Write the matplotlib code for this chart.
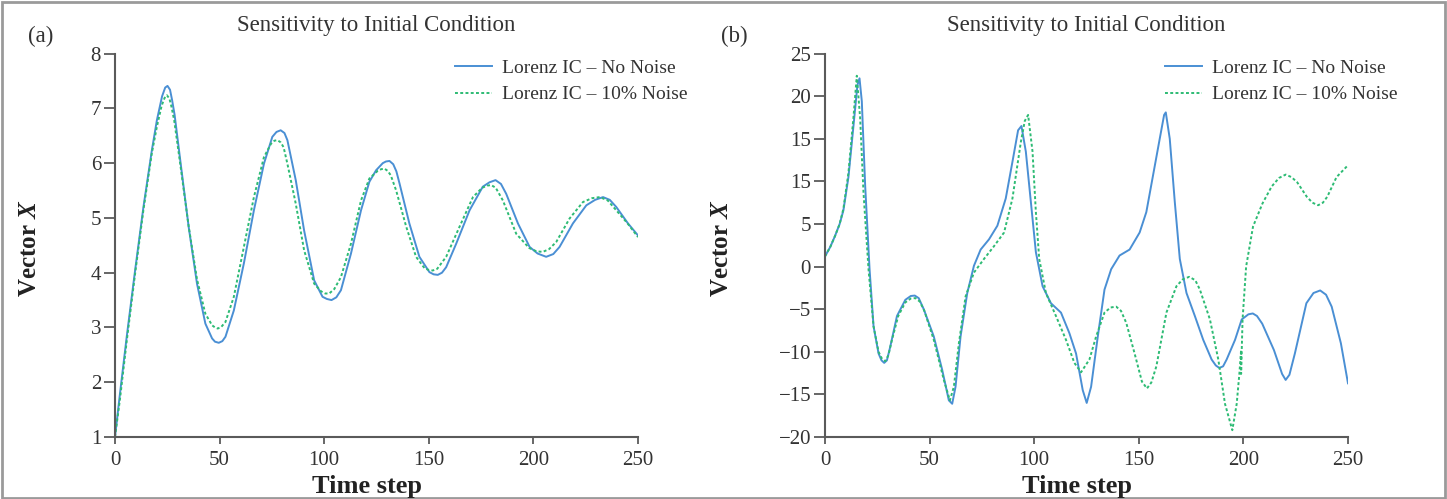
import matplotlib
matplotlib.use("Agg")
import matplotlib.pyplot as plt
from matplotlib.patches import Rectangle

plt.rcParams['font.family'] = ['Liberation Serif', 'DejaVu Serif']
plt.rcParams['mathtext.fontset'] = 'custom'
plt.rcParams['mathtext.it'] = 'Liberation Serif:italic:bold'
plt.rcParams['mathtext.rm'] = 'Liberation Serif:bold'

# ---- panel (a) ----
ta_blue = [0, 2.4, 5.6, 9.6, 13.6, 17.6, 20, 22.5, 24, 25.1, 26.3, 27.3, 28.5, 31.2, 35.2,
           39.2, 43.2, 46.4, 47.8, 49.6, 51.3, 52.8, 56.8, 61.6, 66.4, 71.2, 75.2, 77.2,
           79.2, 81, 82.4, 86.4, 90.4, 95.2, 99.2, 101.3, 103.5, 105.8, 108, 112.8, 117.6,
           121.6, 124.8, 128, 129.5, 131.2, 133, 134.5, 136, 140.7, 145.5, 150.3, 152.3,
           154.3, 156.3, 158.3, 163.1, 169.5, 175.8, 179, 181.9, 184.5, 187, 192.6, 198.2,
           202, 206.1, 209.5, 212.5, 218.9, 225.3, 229.5, 233.3, 236.5, 239.6, 245.2, 250]
xa_blue = [1.0, 1.8, 2.83, 4.04, 5.2, 6.23, 6.78, 7.22, 7.38, 7.41, 7.34, 7.15, 6.88, 6.05, 4.84,
           3.8, 3.07, 2.8, 2.74, 2.72, 2.75, 2.83, 3.31, 4.17, 5.14, 5.99, 6.48, 6.57,
           6.60, 6.55, 6.42, 5.69, 4.77, 3.86, 3.56, 3.52, 3.50, 3.55, 3.68, 4.35, 5.14,
           5.66, 5.87, 6.0, 6.03, 6.04, 5.98, 5.85, 5.63, 4.9, 4.29, 4.01, 3.97,
           3.96, 4.0, 4.1, 4.53, 5.14, 5.57, 5.65, 5.69, 5.62, 5.44, 4.9, 4.47,
           4.35, 4.29, 4.34, 4.47, 4.9, 5.23, 5.33, 5.38, 5.33, 5.2, 4.9, 4.68]

ta_green = [0, 2.4, 5.6, 9.6, 13.6, 17.6, 20, 22.3, 23.7, 24.8, 26, 27, 28.3, 31.2, 35.2,
            39.2, 43.2, 46.4, 47.8, 49.1, 50.8, 52.8, 56.8, 61.6, 66.4, 71.2, 74.5, 76.2,
            77.6, 79.2, 80.6, 82.4, 86.4, 90.4, 95.2, 98.5, 100.5, 102.4, 104.8, 108, 112.8,
            117.6, 121.6, 125.6, 127.3, 128.8, 130.3, 131.8, 134.4, 139.2, 143.9, 148,
            150, 151.9, 154, 158.3, 164.7, 171.1, 175.5, 178, 179.8, 182, 185.4, 191.8, 198,
            201.5, 204.5, 207.5, 210.9, 217.3, 223.7, 228, 231.7, 235.5, 239.6, 245, 250]
xa_green = [1.0, 1.7, 2.75, 3.98, 5.15, 6.18, 6.66, 7.05, 7.19, 7.24, 7.18, 7.03, 6.78, 5.98, 4.85,
            3.88, 3.25, 3.04, 3.0, 2.98, 3.01, 3.1, 3.56, 4.47, 5.38, 6.11, 6.35, 6.41,
            6.42, 6.38, 6.29, 5.99, 5.26, 4.41, 3.80, 3.66, 3.62, 3.62, 3.70, 3.92, 4.53,
            5.32, 5.72, 5.86, 5.89, 5.9, 5.86, 5.78, 5.5, 4.84, 4.29, 4.08,
            4.05, 4.04, 4.07, 4.29, 4.84, 5.38, 5.55, 5.59, 5.6, 5.55, 5.32, 4.71, 4.45,
            4.39, 4.38, 4.43, 4.56, 4.99, 5.29, 5.36, 5.38, 5.32, 5.14, 4.9, 4.65]

# ---- panel (b) ----
tb_blue = [0, 2.5, 4.8, 7, 8.8, 11.2, 13.6, 15.5, 16.5, 17.6, 19.2, 21.3, 23.2, 25.6,
           27, 28.3, 29.6, 31.2, 34.4, 38.4, 41, 42.9, 44.8, 47.2, 52, 56, 59.2, 60.8,
           62.4, 64.8, 68, 71.2, 74.4, 78.4, 82.4, 86.4, 89.6, 92.3, 93.9, 96, 98.4,
           100.8, 104, 108, 112.8, 116.8, 120, 123.2, 125.1, 127.2, 130.4, 133.6, 136.8,
           140.8, 145.6, 150.4, 153.6, 156.8, 160, 162.1, 162.9, 164.8, 167.2, 169.6,
           172.8, 176.8, 180.8, 184.8, 186.8, 188.5, 190.3, 192, 196, 199.2, 202.4, 204.5,
           206.5, 209, 214.6, 218.5, 220.2, 222, 224.6, 230.1, 233.5, 236.7, 239.5, 242.2,
           246.6, 250]
xb_blue = [1.2, 2.3, 3.6, 5.0, 6.6, 10.5, 16.5, 21.3, 22.1, 19.4, 9.5, -0.3, -7.0, -10.2,
           -11.0, -11.3, -11.0, -9.4, -5.8, -3.9, -3.45, -3.4, -3.7, -5.0, -8.2, -12.1, -15.7,
           -16.1, -14.1, -8.2, -3.1, 0.1, 2.0, 3.2, 4.8, 8.0, 12.3, 16.0, 16.5, 13.5, 7.6,
           1.7, -2.3, -4.3, -5.4, -7.8, -10.2, -14.5, -16.0, -14.1, -8.2, -2.7, -0.3,
           1.3, 2.0, 4.0, 6.4, 10.7, 15.0, 17.8, 18.1, 15.0, 7.6, 0.9,
           -3.1, -5.8, -8.6, -10.9, -11.6, -11.9, -11.7, -10.9, -8.6, -6.2, -5.6, -5.5,
           -5.8, -6.7, -9.8, -12.6, -13.3, -12.7, -10.2, -4.3, -3.1, -2.8, -3.3, -4.7,
           -9.0, -13.7]

tb_green = [0, 2.5, 4.8, 7, 8.8, 11.2, 13.6, 15.2, 16.8, 18.4, 20.8, 23.2, 25.6, 27.2,
            28.8, 30.3, 32, 35, 38.4, 41, 43.2, 45.3, 47.5, 52, 56.8, 59.7, 61.6, 64, 67.2,
            71.2, 76, 80.8, 85.6, 89.6, 93.6, 95.5, 97.1, 99.2, 100.8, 102.4, 105.6, 110.4,
            115.2, 119.2, 122.4, 126.4, 129.6, 133.6, 136.5, 139.2, 141.5, 144, 148, 151.5,
            153.9, 156, 158.4, 163.2, 168, 171, 174.1, 177, 179.2, 184, 188, 191.2, 194.7,
            196.8, 198.1, 198.9, 198.9, 199.6, 201.3, 204.6, 209.1, 213.5, 217, 220.2, 223,
            225.7, 230.3, 233, 235.7, 238, 240.1, 244.5, 250]
xb_green = [1.2, 2.3, 3.6, 5.0, 6.8, 11.0, 17.5, 22.4, 17.4, 8.7, -0.3, -7.0, -10.0, -10.8,
            -11.1, -10.4, -8.6, -5.8, -4.2, -3.75, -3.7, -4.1, -5.2, -8.6, -13.3, -15.7, -14.1,
            -9.0, -3.5, -0.7, 0.9, 2.4, 4.0, 8.0, 14.6, 17.1, 17.8, 13.5, 6.4, 0.9, -3.1,
            -5.8, -8.6, -11.3, -12.4, -10.9, -8.2, -5.4, -4.8, -4.7, -5.2, -6.6, -10.2,
            -13.5, -14.3, -13.6, -11.7, -5.4, -2.3, -1.5, -1.2, -1.6, -2.7, -6.2, -10.9,
            -16.1, -19.2, -16.1, -12.5, -9.8, -12.6, -6.2, 0.0, 4.7, 7.4, 9.4, 10.4, 10.8,
            10.5, 9.9, 8.2, 7.5, 7.2, 7.5, 8.2, 10.5, 11.9]

xticks = [0, 50, 100, 150, 200, 250]
ya_ticks = [1, 2, 3, 4, 5, 6, 7, 8]
yb_ticks = [-20, -15, -10, -5, 0, 5, 10, 15, 20, 25]
yb_labels = ['\u221220', '\u221215', '\u221210', '\u22125', '0', '5', '15', '15', '20', '25']

BLUE = '#4a8fd4'
GREEN = '#2dbb74'
GRAY = '#5a5a5a'
TXT = '#333333'

fig = plt.figure(figsize=(14.47, 4.99), dpi=100)
fig.patches.append(Rectangle((0.0015, 0.003), 0.997, 0.993, transform=fig.transFigure,
                             fill=False, edgecolor='#9a9a9a', linewidth=2))

W = 523 / 1447
H = 383.4 / 499
ax_a = fig.add_axes([115 / 1447, 1 - 437 / 499, W, H])
ax_b = fig.add_axes([825 / 1447, 1 - 437 / 499, W, H])

panels = [
    (ax_a, ta_blue, xa_blue, ta_green, xa_green, (1, 8), ya_ticks, None, '(a)', 41),
    (ax_b, tb_blue, xb_blue, tb_green, xb_green, (-20, 25), yb_ticks, yb_labels, '(b)', 734),
]

for ax, tbl, xbl, tgr, xgr, ylim, yt, ylab, tag, tagx in panels:
    ax.plot(tbl, xbl, color=BLUE, lw=1.4, solid_joinstyle='round', label='Lorenz IC \u2013 No Noise')
    ax.plot(tgr, xgr, color=GREEN, lw=1.4, dashes=(1.5, 1.2), dash_joinstyle='round',
            label='Lorenz IC \u2013 10% Noise')
    ax.set_xlim(0, 250)
    ax.set_ylim(*ylim)
    ax.set_xticks(xticks)
    ax.set_yticks(yt)
    if ylab is not None:
        ax.set_yticklabels(ylab)
    for s in ['top', 'right']:
        ax.spines[s].set_visible(False)
    for s in ['left', 'bottom']:
        ax.spines[s].set_color(GRAY)
        ax.spines[s].set_linewidth(1.5)
    ax.tick_params(axis='x', length=5, width=1.3, color=GRAY, labelsize=15, labelcolor=TXT, pad=5)
    ax.tick_params(axis='y', length=8, width=1.3, color=GRAY, labelsize=15, labelcolor=TXT, pad=2)
    ax.margins(0)

    bb = ax.get_position()
    cx = (bb.x0 + bb.x1) / 2
    fig.text(cx, 1 - 26 / 499, 'Sensitivity to Initial Condition', ha='center', va='center',
             fontsize=16.5, color=TXT)
    fig.text(tagx / 1447, 1 - 36 / 499, tag, ha='center', va='center', fontsize=16.5, color=TXT)
    fig.text(cx - 10 / 1447, 1 - 487 / 499, 'Time step', ha='center', va='center',
             fontsize=19, fontweight='bold', color='#222222')
    fig.text((tagx - 12) / 1447, 1 - 248 / 499, r'Vector $\it{X}$', ha='center', va='center',
             rotation=90, fontsize=18, fontweight='bold', color='#222222')

    leg = ax.legend(loc='upper left', bbox_to_anchor=(0.65, 0.985), frameon=False,
                    fontsize=14, handlelength=1.9, handletextpad=0.5, labelspacing=0.45,
                    borderpad=0, borderaxespad=0)
    for t in leg.get_texts():
        t.set_color(TXT)

fig.savefig('out.png', dpi=100)
